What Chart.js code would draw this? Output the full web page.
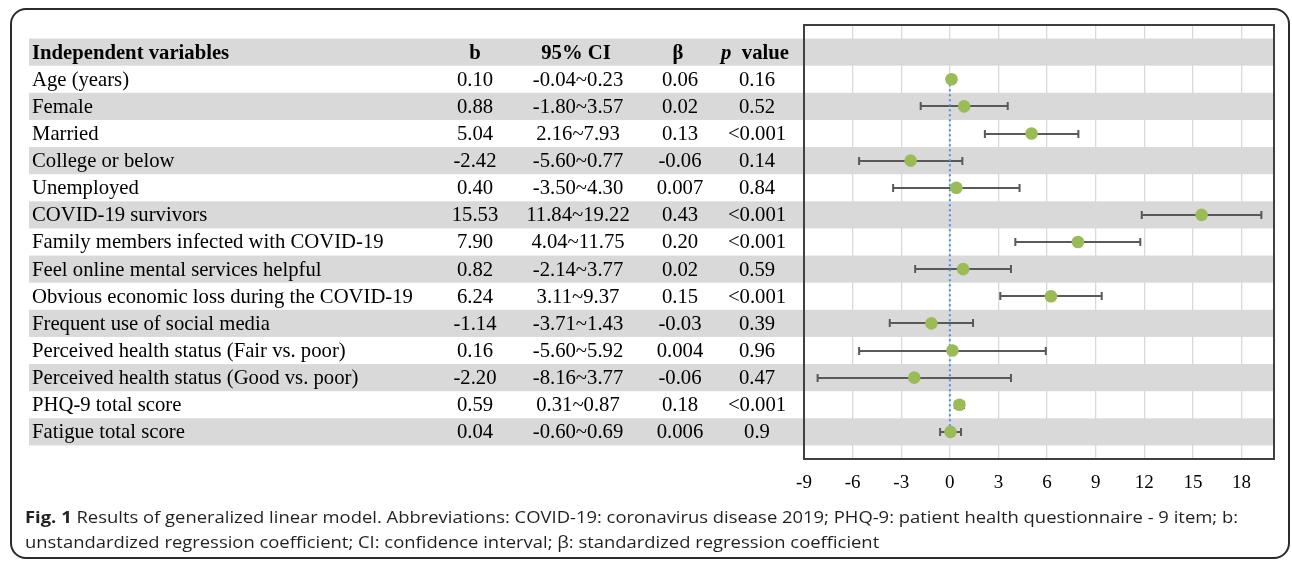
<!DOCTYPE html>
<html>
<head>
<meta charset="utf-8">
<script src="https://cdn.jsdelivr.net/npm/chart.js@4"></script>
<style>
  html, body { margin:0; padding:0; background:#fff; }
  body { width:1292px; height:563px; position:relative; overflow:hidden; }
  #frame { position:absolute; left:10px; top:8px; width:1280px; height:551px; box-sizing:border-box;
           border:2px solid #2b2b2b; border-radius:16px; }
  #c { position:absolute; left:0; top:0; }
  #tbl { position:absolute; left:0; top:0; width:1292px; height:563px;
         font-family:"Liberation Serif","Times New Roman",serif; font-size:20.7px; color:#000; }
  .cell { position:absolute; white-space:nowrap; }
  .ctr { text-align:center; width:140px; }
  .hd { font-weight:bold; }
  #cap { position:absolute; left:25px; top:504px; font-family:"Open Sans","Noto Sans",sans-serif;
         font-size:16.5px; line-height:25px; color:#231f20; transform-origin:0 0; white-space:nowrap; }
  #cap b { font-weight:bold; }
</style>
</head>
<body>
<div id="frame"></div>
<canvas id="c" width="1292" height="563"></canvas>
<div id="tbl"></div>
<div id="cap"><div id="cap1"><b>Fig. 1</b> Results of generalized linear model. Abbreviations: COVID-19: coronavirus disease 2019; PHQ-9: patient health questionnaire - 9 item; b:</div><div id="cap2">unstandardized regression coefficient; CI: confidence interval; β: standardized regression coefficient</div></div>
<script>
// ---- data ----
const headers = ["Independent variables", "b", "95% CI", "β", "p value"];
const labels = ["Age (years)", "Female", "Married", "College or below", "Unemployed",
  "COVID-19 survivors", "Family members infected with COVID-19", "Feel online mental services helpful",
  "Obvious economic loss during the COVID-19", "Frequent use of social media",
  "Perceived health status (Fair vs. poor)", "Perceived health status (Good vs. poor)",
  "PHQ-9 total score", "Fatigue total score"];
const bValues = [0.10, 0.88, 5.04, -2.42, 0.40, 15.53, 7.90, 0.82, 6.24, -1.14, 0.16, -2.20, 0.59, 0.04];
const ciLow  = [-0.04, -1.80, 2.16, -5.60, -3.50, 11.84, 4.04, -2.14, 3.11, -3.71, -5.60, -8.16, 0.31, -0.60];
const ciHigh = [0.23, 3.57, 7.93, 0.77, 4.30, 19.22, 11.75, 3.77, 9.37, 1.43, 5.92, 3.77, 0.87, 0.69];
const betaValues = ["0.06", "0.02", "0.13", "-0.06", "0.007", "0.43", "0.20", "0.02", "0.15", "-0.03", "0.004", "-0.06", "0.18", "0.006"];
const pValues = ["0.16", "0.52", "<0.001", "0.14", "0.84", "<0.001", "<0.001", "0.59", "<0.001", "0.39", "0.96", "0.47", "<0.001", "0.9"];
const xTicks = [-9, -6, -3, 0, 3, 6, 9, 12, 15, 18];
const refLineX = 0;

// ---- style ----
const BAND = '#d9d9d9';
const TABLE_LEFT = 29;

const bandPlugin = {
  id: 'bandsAndBars',
  beforeDatasetsDraw(chart) {
    const { ctx, chartArea, scales: { x, y } } = chart;
    ctx.save();
    ctx.fillStyle = BAND;
    for (let i = 0; i <= labels.length; i += 2) {
      const t = y.getPixelForValue(i - 0.5), b = y.getPixelForValue(i + 0.5);
      ctx.fillRect(TABLE_LEFT, t, chartArea.right - TABLE_LEFT, b - t);
    }
    // error bars
    ctx.strokeStyle = '#595959';
    ctx.lineWidth = 2;
    const cap = 4;
    labels.forEach((_, i) => {
      const yy = Math.round(y.getPixelForValue(i + 1)) + 0.0;
      const x1 = x.getPixelForValue(ciLow[i]), x2 = x.getPixelForValue(ciHigh[i]);
      ctx.beginPath();
      ctx.moveTo(x1, yy); ctx.lineTo(x2, yy);
      ctx.moveTo(x1, yy - cap); ctx.lineTo(x1, yy + cap);
      ctx.moveTo(x2, yy - cap); ctx.lineTo(x2, yy + cap);
      ctx.stroke();
    });
    ctx.restore();
  },
  afterDatasetsDraw(chart) {
    const { ctx, chartArea } = chart;
    ctx.save();
    ctx.strokeStyle = '#404040';
    ctx.lineWidth = 2;
    ctx.strokeRect(chartArea.left, chartArea.top, chartArea.right - chartArea.left, chartArea.bottom - chartArea.top);
    ctx.restore();
  }
};

const chart = new Chart(document.getElementById('c'), {
  type: 'scatter',
  data: {
    datasets: [
      {
        data: labels.map((_, i) => ({ x: bValues[i], y: i + 1 })),
        pointRadius: 6.3,
        pointHoverRadius: 6.3,
        backgroundColor: '#9bbb59',
        borderColor: '#9bbb59',
        borderWidth: 0,
        order: 0
      },
      {
        data: [{ x: refLineX, y: 1 }, { x: refLineX, y: labels.length }],
        showLine: true,
        pointRadius: 0,
        borderColor: '#4a8ee0',
        borderWidth: 2,
        borderDash: [2, 3],
        order: 1
      }
    ]
  },
  options: {
    responsive: false,
    devicePixelRatio: 1,
    animation: false,
    events: [],
    layout: { padding: { left: 804, top: 25, right: 18, bottom: 64 } },
    plugins: { legend: { display: false }, tooltip: { enabled: false } },
    scales: {
      x: {
        type: 'linear', min: -9, max: 20,
        afterBuildTicks: s => { s.ticks = xTicks.map(v => ({ value: v })); },
        afterFit: s => { s.height = 40; },
        grid: { color: '#d9d9d9', lineWidth: 1.3, drawTicks: false },
        border: { display: false },
        ticks: { padding: 13, color: '#000', font: { family: 'Liberation Serif', size: 19 }, maxRotation: 0 }
      },
      y: {
        type: 'linear', min: -1, max: 15, reverse: true, display: false
      }
    }
  },
  plugins: [bandPlugin]
});

// ---- table text positioned from the chart's y scale ----
const tbl = document.getElementById('tbl');
const ys = chart.scales.y;
const rowH = Math.abs(ys.getPixelForValue(1) - ys.getPixelForValue(0));
const colCenters = [475, 578, 680, 757];
function addCell(html, rowIdx, opts) {
  const d = document.createElement('div');
  d.className = 'cell' + (opts.center ? ' ctr' : '') + (opts.bold ? ' hd' : '');
  const cy = ys.getPixelForValue(rowIdx);
  d.style.top = (cy - rowH / 2) + 'px';
  d.style.height = rowH + 'px';
  d.style.lineHeight = rowH + 'px';
  d.style.left = (opts.center ? opts.x - 70 : opts.x) + 'px';
  d.innerHTML = html;
  tbl.appendChild(d);
}
const esc = s => s.replace(/&/g, '&amp;').replace(/</g, '&lt;');
addCell(headers[0], 0, { x: 32, bold: true });
addCell(headers[1], 0, { x: colCenters[0], center: true, bold: true });
addCell(headers[2], 0, { x: colCenters[1] - 2, center: true, bold: true });
addCell(headers[3], 0, { x: colCenters[2] - 2, center: true, bold: true });
addCell('<i>' + headers[4].split(' ')[0] + '</i>&nbsp; ' + headers[4].split(' ').slice(1).join(' '), 0, { x: colCenters[3] - 2, center: true, bold: true });
labels.forEach((lab, i) => {
  const r = i + 1;
  addCell(esc(lab), r, { x: 32 });
  addCell(bValues[i].toFixed(2), r, { x: colCenters[0], center: true });
  addCell(ciLow[i].toFixed(2) + '~' + ciHigh[i].toFixed(2), r, { x: colCenters[1], center: true });
  addCell(betaValues[i], r, { x: colCenters[2], center: true });
  addCell(esc(pValues[i]), r, { x: colCenters[3], center: true });
});

// ---- caption horizontal fit ----
const cap1 = document.getElementById('cap1');
const w = cap1.getBoundingClientRect().width;
const targetW = 1213;
document.getElementById('cap').style.transform = 'scaleX(' + (targetW / w) + ')';
</script>
</body>
</html>
